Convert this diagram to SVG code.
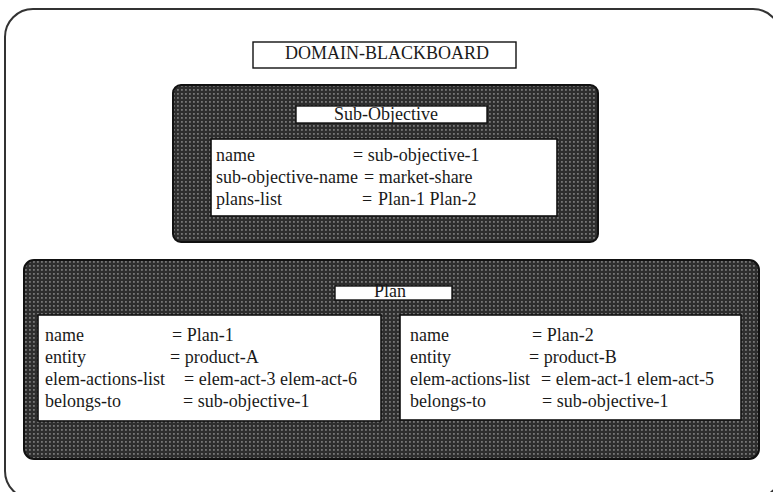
<svg xmlns="http://www.w3.org/2000/svg" width="773" height="492" viewBox="0 0 773 492">
  <defs>
    <!-- dark stippled fill used for the frame panels -->
    <pattern id="stipple" width="4" height="4" patternUnits="userSpaceOnUse">
      <rect width="4" height="4" fill="#2e2e2e"/>
      <rect x="1" y="1" width="1.8" height="1.8" fill="#777"/>
    </pattern>
    <style>
      .frame { fill: #fff; stroke: #333; stroke-width: 2; }
      .panel { fill: url(#stipple); stroke: #111; stroke-width: 2; }
      .box { fill: #fff; stroke: #111; stroke-width: 1.6; }
      .label { fill: #fff; stroke: #111; stroke-width: 1.4; }
      text { font-family: "Liberation Serif", "Times New Roman", serif; font-size: 18px; fill: #1a1a1a; }
      .title { text-anchor: middle; }
    </style>
  </defs>

  <!-- outer blackboard frame -->
  <rect class="frame" x="5" y="9" width="776" height="490" rx="28"/>

  <g id="domain-blackboard">
    <rect class="label" x="253" y="42" width="263" height="26" stroke-width="1.8"/>
    <text class="title" x="387" y="59" font-size="16" textLength="204" lengthAdjust="spacingAndGlyphs">DOMAIN-BLACKBOARD</text>
  </g>

  <g id="sub-objective">
    <rect class="panel" x="173" y="85" width="425" height="157" rx="8"/>
    <rect class="label" x="296" y="106" width="191" height="17"/>
    <text class="title" x="386" y="120">Sub-Objective</text>
    <rect class="box" x="211" y="139" width="346" height="77"/>
    <text x="216" y="161">name</text>
    <text x="353" y="161">= sub-objective-1</text>
    <text x="216" y="183">sub-objective-name</text>
    <text x="364" y="183">= market-share</text>
    <text x="216" y="205">plans-list</text>
    <text x="362" y="205">=</text>
    <text x="378" y="205">Plan-1 Plan-2</text>
  </g>

  <g id="plan">
    <rect class="panel" x="24" y="260" width="735" height="199" rx="10"/>
    <rect class="label" x="335" y="286" width="117" height="14"/>
    <text class="title" x="390" y="297">Plan</text>
  </g>

  <g id="plan-1">
    <rect class="box" x="38" y="315" width="343" height="106"/>
    <text x="45" y="341">name</text>
    <text x="172" y="341">= Plan-1</text>
    <text x="45" y="363">entity</text>
    <text x="170" y="363">= product-A</text>
    <text x="45" y="385">elem-actions-list</text>
    <text x="184" y="385">= elem-act-3 elem-act-6</text>
    <text x="45" y="407">belongs-to</text>
    <text x="183" y="407">= sub-objective-1</text>
  </g>

  <g id="plan-2">
    <rect class="box" x="400" y="315" width="341" height="105"/>
    <text x="410" y="341">name</text>
    <text x="532" y="341">= Plan-2</text>
    <text x="410" y="363">entity</text>
    <text x="529" y="363">= product-B</text>
    <text x="410" y="385">elem-actions-list</text>
    <text x="541" y="385">= elem-act-1 elem-act-5</text>
    <text x="410" y="407">belongs-to</text>
    <text x="542" y="407">= sub-objective-1</text>
  </g>

  <g id="connectors"/>
</svg>
